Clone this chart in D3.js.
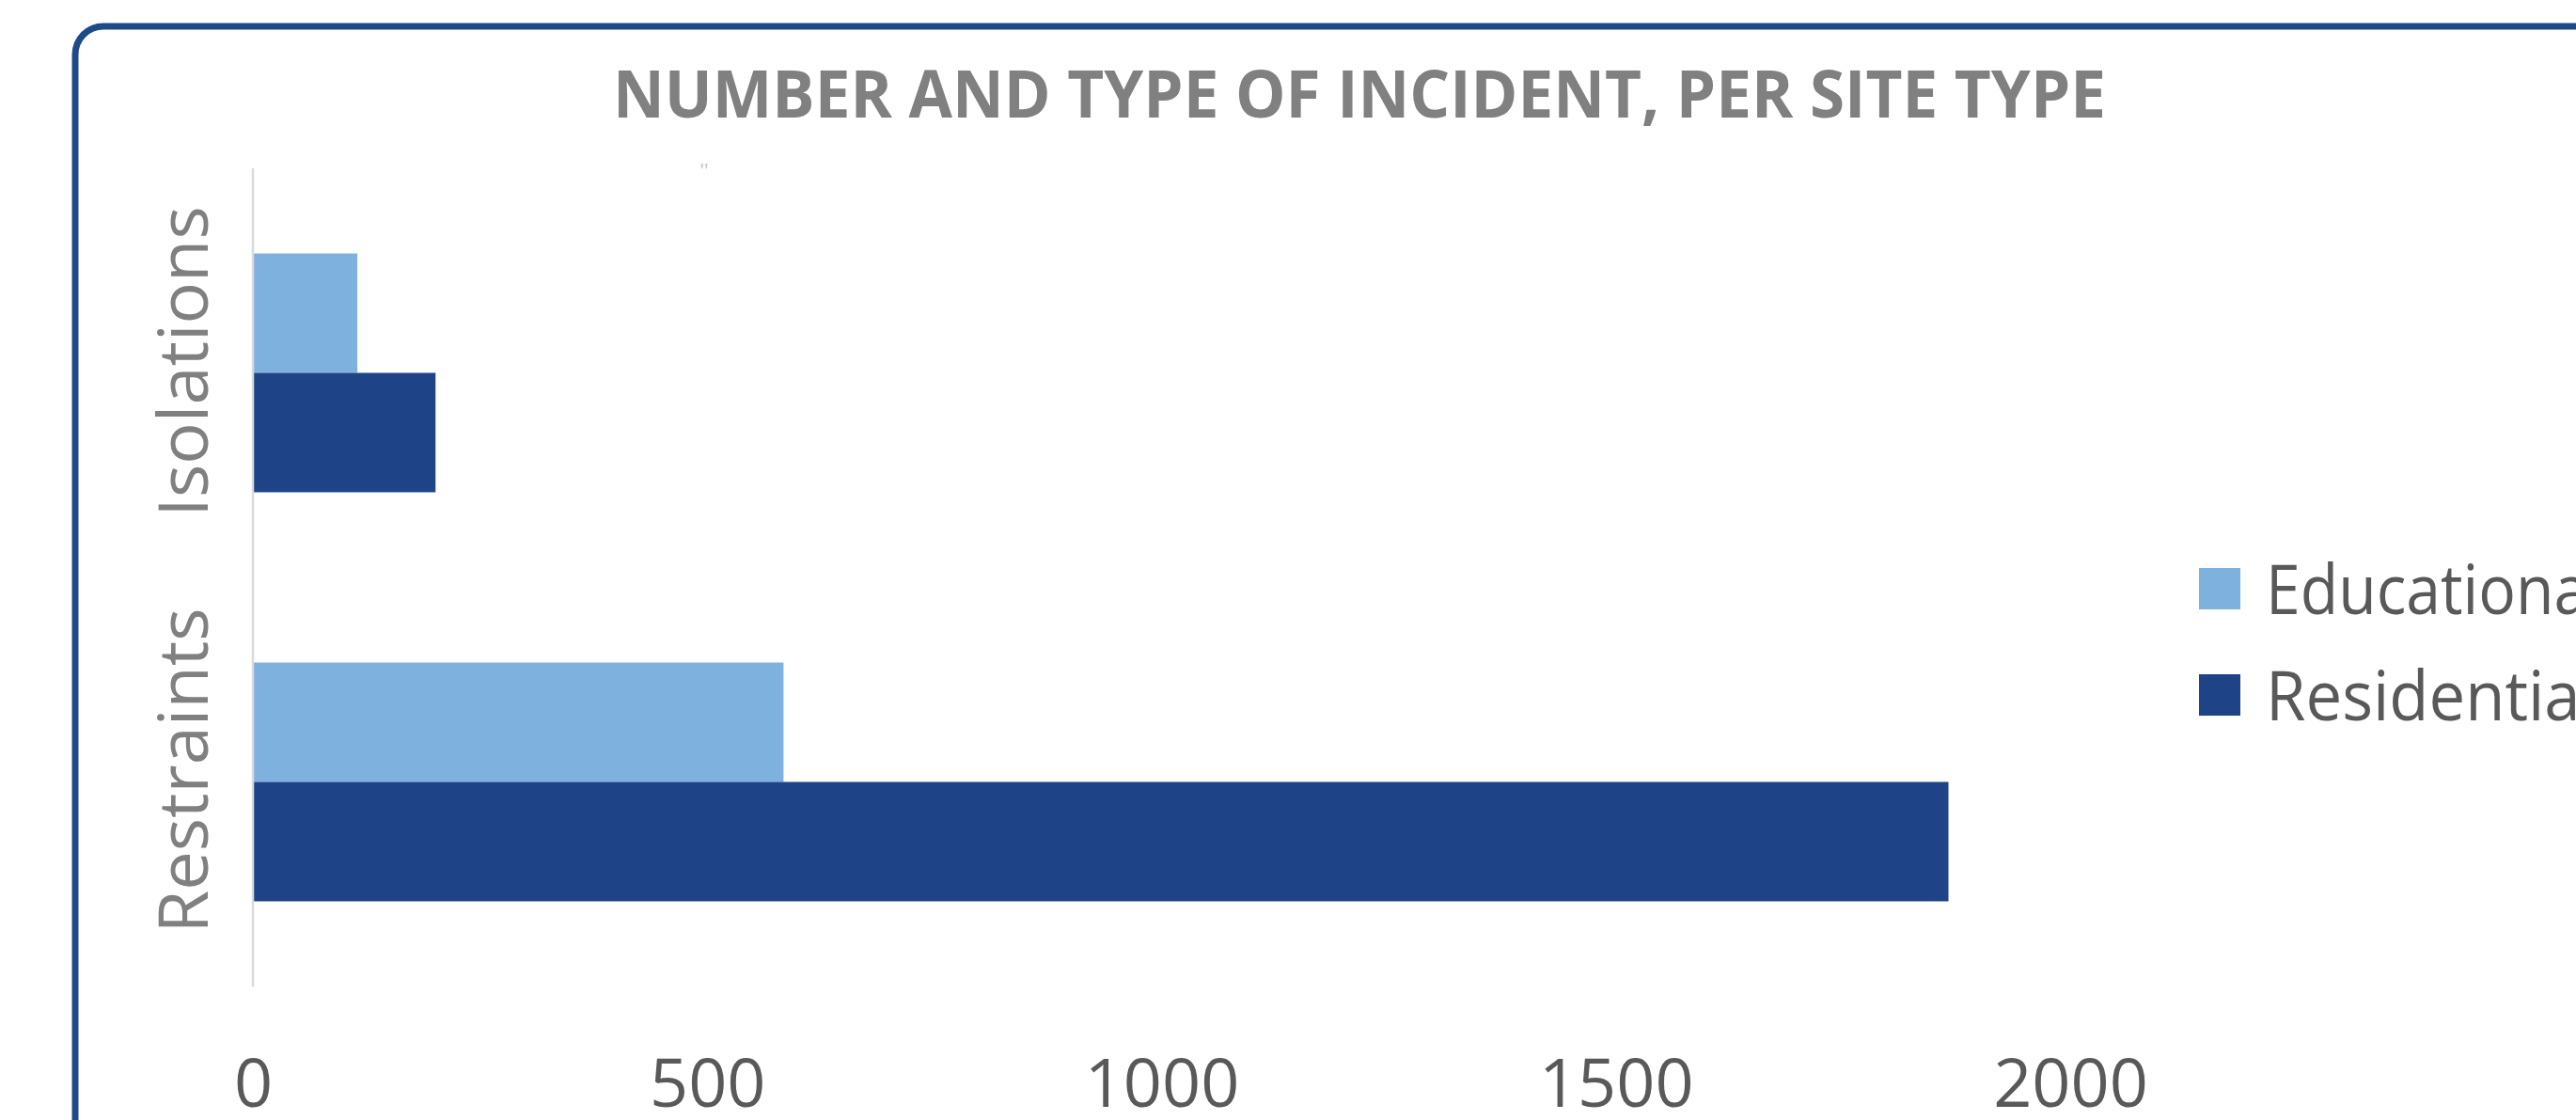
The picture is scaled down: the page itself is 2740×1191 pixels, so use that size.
<!DOCTYPE html>
<html>
<head>
	<title>Number and type of incident, per site type</title>
	<meta charset="utf-8">
	<script src="https://cdnjs.cloudflare.com/ajax/libs/d3/7.8.5/d3.min.js"></script>
	<style type="text/css">
		body { margin: 0; background: #fff; }
		text { font-family: "Open Sans", "DejaVu Sans", sans-serif; }
	</style>
</head>
<body>
	<script type="text/javascript">

		let categories = ['Isolations', 'Restraints'];
		let series = ['Educational', 'Residential'];
		let educational = [115, 584];
		let residential = [201, 1866];
		let xTicks = [0, 500, 1000, 1500, 2000];
		let colors = ['#7fb1df', '#1f4387'];

		let data = categories.map((c, i) => ({
			category: c,
			values: [
				{ key: series[0], value: educational[i] },
				{ key: series[1], value: residential[i] }
			]
		}));

		let svg = d3.select('body').append('svg')
			.attr('width', 2740)
			.attr('height', 1191);

		// outer rounded frame (chart was cropped on right/bottom)
		svg.append('rect')
			.attr('x', 80).attr('y', 28)
			.attr('width', 2800).attr('height', 1300)
			.attr('rx', 30).attr('ry', 30)
			.attr('fill', 'none')
			.attr('stroke', '#1f4a8a')
			.attr('stroke-width', 7);

		svg.append('text')
			.attr('x', 1446).attr('y', 125)
			.attr('text-anchor', 'middle')
			.attr('font-size', 70)
			.attr('font-weight', 'bold')
			.attr('fill', '#808080')
			.attr('textLength', 1588)
			.attr('lengthAdjust', 'spacingAndGlyphs')
			.text('NUMBER AND TYPE OF INCIDENT, PER SITE TYPE');

		// stray marks near the top of the plot
		svg.append('text')
			.attr('x', 749).attr('y', 188)
			.attr('text-anchor', 'middle')
			.attr('font-size', 20)
			.attr('fill', '#c0c0c0')
			.text("''");

		let xScale = d3.scaleLinear().domain([0, 2000]).range([269, 2202]);
		let yScale = d3.scaleBand().domain(categories).range([179, 1049]).padding(0);
		let ySub = d3.scaleBand().domain(series).range([0, yScale.bandwidth()])
			.paddingInner(0).paddingOuter(0.713);
		let color = d3.scaleOrdinal().domain(series).range(colors);

		let groups = svg.selectAll('g.cat').data(data).enter().append('g')
			.attr('class', 'cat')
			.attr('transform', d => `translate(0,${yScale(d.category)})`);

		groups.selectAll('rect').data(d => d.values).enter().append('rect')
			.attr('x', xScale(0))
			.attr('y', d => ySub(d.key))
			.attr('width', d => xScale(d.value) - xScale(0))
			.attr('height', ySub.bandwidth())
			.attr('fill', d => color(d.key));

		// vertical category axis line
		svg.append('line')
			.attr('x1', xScale(0)).attr('x2', xScale(0))
			.attr('y1', 179).attr('y2', 1049)
			.attr('stroke', '#d9d9d9')
			.attr('stroke-width', 2.5);

		// category labels, rotated
		svg.selectAll('text.cat').data(categories).enter().append('text')
			.attr('class', 'cat')
			.attr('transform', d => `translate(221,${yScale(d) + yScale.bandwidth() / 2 - 12}) rotate(-90)`)
			.attr('text-anchor', 'middle')
			.attr('font-size', 74)
			.attr('fill', '#808080')
			.text(d => d);

		// value axis labels
		let xAxis = d3.axisBottom(xScale).tickValues(xTicks).tickSize(0).tickFormat(d3.format('d'));
		let gx = svg.append('g')
			.attr('transform', 'translate(0,1177)')
			.call(xAxis);
		gx.select('.domain').remove();
		gx.selectAll('text')
			.attr('y', 0).attr('dy', 0)
			.attr('font-size', 72)
			.attr('font-family', '"Open Sans", sans-serif')
			.attr('fill', '#595959');

		// legend
		let legend = svg.selectAll('g.legend').data(series).enter().append('g')
			.attr('class', 'legend')
			.attr('transform', (d, i) => `translate(2339,${604 + i * 113})`);
		legend.append('rect')
			.attr('width', 44).attr('height', 44)
			.attr('fill', d => color(d));
		legend.append('text')
			.attr('x', 71).attr('y', 49)
			.attr('font-size', 74)
			.attr('fill', '#595959')
			.attr('textLength', d => d === 'Educational' ? 360 : 352)
			.attr('lengthAdjust', 'spacingAndGlyphs')
			.text(d => d);
	</script>
</body>
</html>
